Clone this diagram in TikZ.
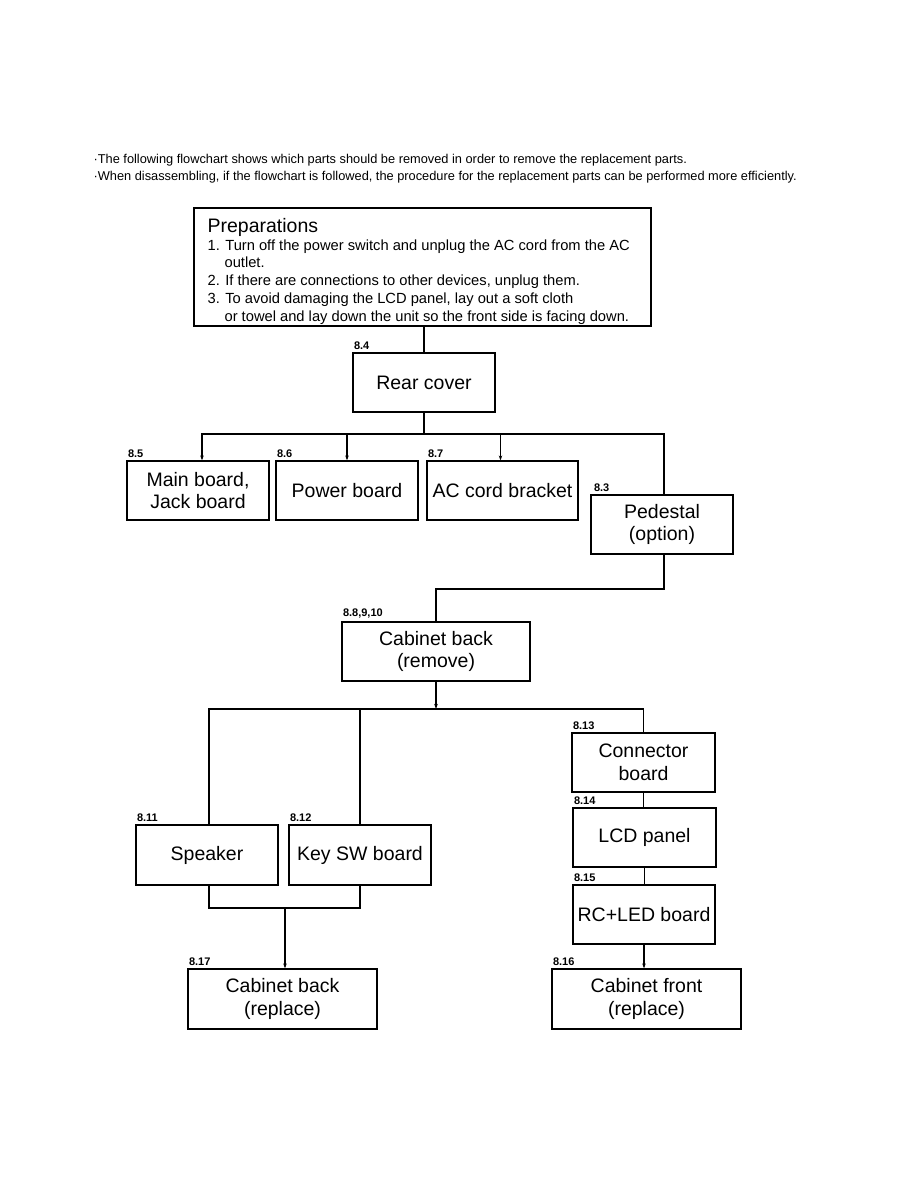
\documentclass[tikz,border=0pt]{standalone}
\usepackage{xcolor}
\usepackage{fontspec}
\setmainfont{Liberation Sans}
\usepackage{tikz}
\usetikzlibrary{arrows.meta}

\begin{document}
\begin{tikzpicture}[x=1pt,y=-1pt,line width=1.2pt]
      % Estilos
      \tikzstyle{caja}=[draw, line width=1.2pt, minimum width=142pt, minimum height=59pt, inner sep=2pt, align=center, font=\fontsize{19.5}{22.5}\selectfont]
      \tikzstyle{num}=[inner xsep=1pt, inner ysep=2.5pt, anchor=south west, font=\fontsize{11}{12}\selectfont\bfseries]
      \tikzstyle{flecha}=[-{Stealth[length=5pt,width=3.5pt]}]
      \useasboundingbox (0,0) rectangle (918,1188);

      % Texto inicial
      \node[anchor=north west, inner sep=0pt, align=left, font=\fontsize{12.8}{17}\selectfont] (intro) at (93,153.5)
        {·The following flowchart shows which parts should be removed in order to remove the replacement parts.\\
         ·When disassembling, if the flowchart is followed, the procedure for the replacement parts can be performed more efficiently.};

      % Preparaciones
      \node[caja, minimum width=457pt, minimum height=118pt] (prep) at (422.5,267) {};
      \node[anchor=north west, inner sep=0pt, align=left, font=\fontsize{14.7}{17.8}\selectfont] (preptxt) at (207,217.5)
        {{\fontsize{19.5}{20}\selectfont Preparations}\\
         1. Turn off the power switch and unplug the AC cord from the AC\\
         \hspace*{17pt}outlet.\\
         2. If there are connections to other devices, unplug them.\\
         3. To avoid damaging the LCD panel, lay out a soft cloth\\
         \hspace*{17pt}or towel and lay down the unit so the front side is facing down.};

      % Cajas
      \node[caja] (rear) at (424,382.5) {Rear cover};
      \node[caja] (main) at (198,490.5) {Main board,\\Jack board};
      \node[caja] (power) at (347,490.5) {Power board};
      \node[caja, minimum width=151pt] (accord) at (502.5,490.5) {AC cord bracket};
      \node[caja] (ped) at (662,524.5) {Pedestal\\ (option)};
      \node[caja, minimum width=188pt] (cabrem) at (436,651.5) {Cabinet back\\(remove)};
      \node[caja, minimum height=60pt] (spk) at (207,855) {Speaker};
      \node[caja, minimum height=60pt] (keysw) at (360,855) {Key SW board};
      \node[caja, minimum width=143pt] (conn) at (643.5,762.5) {Connector\\board};
      \node[caja, minimum width=143pt] (lcd) at (644.5,837.5) {LCD panel};
      \node[caja] (rcled) at (644,914.5) {RC+LED board};
      \node[caja, minimum width=189pt, minimum height=60pt] (cabrep) at (282.5,999) {Cabinet back\\(replace)};
      \node[caja, minimum width=189pt, minimum height=60pt] (cabfront) at (646.5,999) {Cabinet front\\(replace)};

      % Numeros de seccion
      \node[num] (n84) at (rear.north west) {8.4};
      \node[num] (n85) at (main.north west) {8.5};
      \node[num] (n86) at (power.north west) {8.6};
      \node[num] (n87) at (accord.north west) {8.7};
      \node[num] (n83) at ([xshift=2pt]ped.north west) {8.3};
      \node[num] (n88) at (cabrem.north west) {8.8,9,10};
      \node[num] (n811) at (spk.north west) {8.11};
      \node[num] (n812) at (keysw.north west) {8.12};
      \node[num] (n813) at (conn.north west) {8.13};
      \node[num] (n814) at (lcd.north west) {8.14};
      \node[num] (n815) at (rcled.north west) {8.15};
      \node[num] (n817) at (cabrep.north west) {8.17};
      \node[num] (n816) at (cabfront.north west) {8.16};

      % Puntos de union
      \coordinate (j1) at (424,434);
      \coordinate (j2) at (436,589);
      \coordinate (j3) at (436,709);
      \coordinate (j4) at (285,908);

      % Conexiones
      \draw (prep.south -| rear.north) -- (rear);
      \draw (rear) -- (j1);
      \draw[flecha] (j1) -| ([xshift=4pt]main.north);
      \draw[flecha] (j1) -| (power.north);
      \draw[flecha] (j1) -| ([xshift=-2pt]accord.north);
      \draw (j1) -| ([xshift=2pt]ped.north);
      \draw ([xshift=2pt]ped.south) |- (j2) -- (cabrem);
      \draw[flecha] (cabrem) -- (j3);
      \draw ([xshift=2pt]spk.north) |- (conn.north |- j3) -- (conn);
      \draw (keysw.north) -- (keysw.north |- j3);
      \draw ([xshift=2pt]spk.south) |- (j4);
      \draw (keysw.south) |- (j4);
      \draw[flecha] (j4) -- (j4 |- cabrep.north);
      \draw (conn) -- (conn |- lcd.north);
      \draw (lcd) -- (lcd |- rcled.north);
      \draw[flecha] (rcled) -- (rcled |- cabfront.north);
    \end{tikzpicture}
\end{document}
